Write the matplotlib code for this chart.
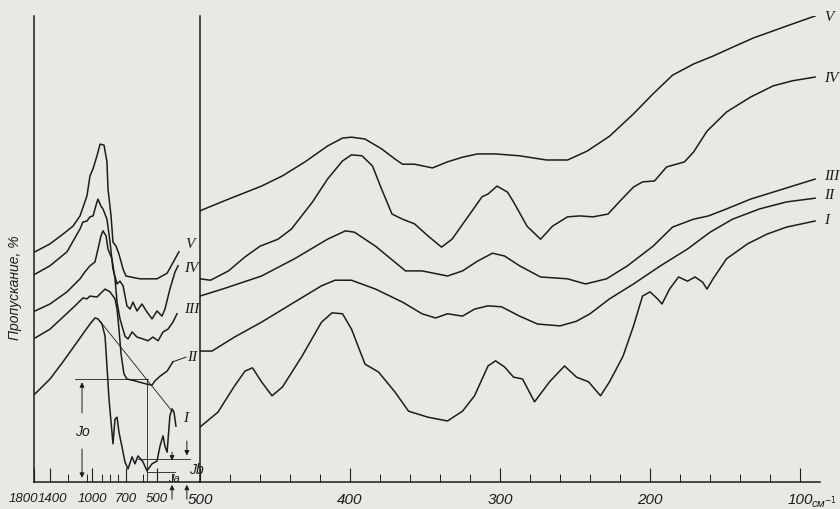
import numpy as np
import matplotlib
matplotlib.use('Agg')
import matplotlib.pyplot as plt
from matplotlib.ticker import FixedLocator, NullLocator
from matplotlib.transforms import ScaledTranslation

# ---- left panel (prism record, 1800-400 cm-1), transmission in arbitrary %
lw_V = [1775, 1400, 1276, 1181, 1114, 1048, 1019, 991, 956, 929, 894, 868, 859, 832, 815, 788, 762, 726, 700, 610, 500, 453, 398]
lt_V = [49.4, 51.1, 53.2, 54.9, 57.1, 61.4, 65.7, 67.2, 70.0, 72.5, 72.3, 68.7, 62.9, 57.1, 51.5, 50.6, 48.9, 45.7, 44.2, 43.6, 43.6, 44.8, 49.4]

lw_IV = [1775, 1400, 1238, 1114, 1086, 1048, 1019, 991, 956, 947, 921, 903, 868, 841, 815, 779, 753, 726, 694, 674, 655, 629, 597, 565, 532, 500, 477, 463, 440, 416, 402]
lt_IV = [44.6, 46.4, 49.4, 54.3, 55.8, 56.0, 56.9, 57.1, 60.1, 60.7, 59.2, 58.6, 56.4, 51.5, 45.7, 42.5, 43.1, 42.1, 37.8, 37.1, 38.6, 36.7, 38.2, 36.5, 35.0, 36.7, 35.6, 37.1, 41.4, 45.1, 46.4]

lw_III = [1775, 1400, 1238, 1114, 1067, 1019, 974, 947, 921, 903, 876, 859, 824, 797, 779, 753, 709, 687, 661, 629, 590, 558, 526, 495, 472, 449, 426, 407]
lt_III = [36.7, 38.2, 40.8, 43.6, 45.1, 46.4, 47.2, 50.0, 52.8, 53.9, 52.8, 50.0, 47.9, 43.6, 38.6, 35.0, 31.3, 30.7, 32.2, 31.1, 30.7, 30.3, 31.1, 30.3, 32.2, 32.8, 34.3, 36.1]

lw_II = [1775, 1400, 1276, 1162, 1086, 1048, 1019, 956, 885, 841, 797, 779, 762, 744, 718, 694, 642, 565, 532, 513, 486, 453, 426]
lt_II = [30.9, 32.8, 35.4, 37.8, 39.5, 39.3, 39.9, 39.7, 41.4, 40.8, 39.3, 37.1, 32.8, 27.5, 23.2, 22.1, 21.7, 21.0, 20.8, 21.7, 22.7, 23.8, 25.8]

lw_I = [1775, 1400, 1276, 1143, 1067, 1019, 974, 947, 912, 885, 868, 850, 824, 815, 797, 779, 762, 735, 709, 687, 661, 642, 623, 590, 565, 532, 500, 486, 472, 463, 453, 440, 430, 421, 412]
lt_I = [18.9, 22.1, 25.8, 30.0, 32.4, 33.9, 35.2, 35.0, 33.9, 31.3, 24.9, 17.8, 10.7, 8.2, 13.5, 13.9, 10.7, 7.5, 4.3, 2.8, 5.4, 3.9, 5.6, 4.3, 2.4, 3.9, 4.5, 7.7, 9.9, 7.7, 6.4, 14.2, 15.7, 15.0, 12.0]

# ---- right panel (grating record, 500-90 cm-1)
rw_V = [500, 481, 459, 445, 430, 415, 405, 399, 390, 379, 370, 365, 357, 345, 335, 325, 315, 303, 287, 269, 255, 242, 227, 211, 198, 185, 171, 158, 145, 131, 118, 105, 90]
rt_V = [58.2, 60.7, 63.5, 65.7, 68.7, 72.1, 73.8, 74.0, 73.6, 71.5, 69.3, 68.2, 68.2, 67.4, 68.7, 69.7, 70.4, 70.4, 70.0, 69.1, 69.1, 71.0, 74.2, 79.0, 83.3, 87.3, 89.7, 91.4, 93.3, 95.3, 96.8, 98.3, 100.0]

rw_IV = [500, 493, 481, 470, 460, 448, 439, 425, 415, 405, 399, 392, 385, 379, 372, 365, 357, 348, 339, 332, 321, 312, 308, 302, 295, 291, 282, 273, 265, 255, 247, 238, 228, 220, 211, 205, 197, 189, 177, 171, 162, 149, 133, 118, 105, 90]
rt_IV = [43.6, 43.3, 45.3, 48.3, 50.6, 52.1, 54.3, 60.1, 65.0, 68.9, 70.2, 70.0, 67.8, 62.9, 57.5, 56.4, 55.4, 52.8, 50.4, 52.1, 57.1, 61.2, 61.8, 63.5, 62.2, 60.1, 54.9, 52.1, 54.9, 56.9, 57.1, 56.9, 57.5, 60.3, 63.3, 64.4, 64.6, 67.6, 68.7, 70.8, 75.3, 79.4, 82.6, 85.0, 86.1, 86.9]

rw_III = [500, 485, 459, 437, 415, 403, 397, 383, 363, 352, 341, 335, 325, 315, 305, 297, 287, 273, 255, 243, 229, 215, 198, 185, 171, 161, 149, 133, 118, 105, 90]
rt_III = [39.9, 41.4, 44.2, 47.9, 52.1, 53.9, 53.6, 50.6, 45.3, 45.3, 44.6, 44.2, 45.3, 47.4, 49.1, 48.5, 46.4, 44.0, 43.6, 42.5, 43.6, 46.4, 50.6, 54.7, 56.4, 57.1, 58.6, 60.7, 62.2, 63.5, 65.0]

rw_II = [500, 492, 477, 459, 437, 419, 410, 399, 383, 365, 352, 343, 335, 325, 317, 308, 299, 287, 275, 260, 249, 240, 227, 211, 193, 175, 160, 145, 127, 109, 90]
rt_II = [28.1, 28.1, 31.1, 34.3, 38.6, 42.1, 43.3, 43.3, 41.4, 38.6, 36.1, 35.2, 36.1, 35.6, 37.1, 37.8, 37.6, 35.6, 33.9, 33.5, 34.5, 36.1, 39.3, 42.5, 46.4, 50.0, 53.6, 56.4, 58.6, 60.1, 60.9]

rw_I = [500, 488, 477, 470, 465, 459, 452, 445, 432, 419, 412, 405, 399, 390, 381, 370, 361, 348, 335, 325, 317, 308, 303, 297, 291, 285, 277, 267, 257, 249, 241, 233, 227, 218, 211, 205, 200, 195, 192, 187, 181, 175, 170, 165, 162, 158, 149, 135, 122, 109, 90]
rt_I = [11.8, 15.0, 20.6, 23.8, 24.5, 21.5, 18.5, 20.4, 27.0, 34.3, 36.3, 36.1, 32.8, 25.3, 23.6, 19.3, 15.2, 13.9, 13.1, 15.2, 18.5, 24.9, 26.0, 24.7, 22.5, 22.1, 17.2, 21.5, 24.9, 22.5, 21.5, 18.5, 21.5, 27.0, 33.5, 39.9, 40.8, 39.3, 38.2, 41.4, 44.0, 43.1, 44.0, 42.9, 41.4, 43.6, 47.9, 51.1, 53.2, 54.7, 56.0]

names = ['I', 'II', 'III', 'IV', 'V']

# tick labels
left_ticks = [1800, 1400, 1000, 700, 500]
left_minor = [1230, 1050, 910, 840, 770, 590, 430]
right_ticks = [500, 400, 300, 200, 100]

# nonlinear wavenumber scale of the prism chart
LEFT_WN = np.array([1800, 1400, 1000, 700, 500, 300])
LEFT_POS = np.array([0, 16, 58, 92, 123, 166])


def fwd(w):
    return -np.interp(-np.asarray(w, dtype=float), -LEFT_WN, LEFT_POS)


def inv(p):
    return -np.interp(-np.asarray(p, dtype=float), LEFT_POS, -LEFT_WN)


bg = '#e8e8e5'
ink = '#1c1c1c'
numfont = ['Liberation Sans Narrow', 'Liberation Sans', 'DejaVu Sans']
romfont = ['Liberation Serif', 'DejaVu Serif']

fig = plt.figure(figsize=(8.4, 5.1), dpi=100, facecolor=bg)
W, H = 840.0, 510.0
ax1 = fig.add_axes([34 / W, 27 / H, 166 / W, 466 / H])
ax2 = fig.add_axes([200 / W, 27 / H, 620 / W, 466 / H])

for ax in (ax1, ax2):
    ax.set_facecolor('none')
    ax.set_ylim(0, 100)
    ax.yaxis.set_major_locator(NullLocator())
    ax.spines['top'].set_visible(False)
    for s in ax.spines.values():
        s.set_color(ink)
        s.set_linewidth(1.1)

ax1.set_xscale('function', functions=(fwd, inv))
ax1.set_xlim(1800, 300)
ax2.set_xlim(500, 86.7)
ax2.spines['right'].set_visible(False)
ax2.spines['left'].set_visible(False)

# left panel curves
for w, t in [(lw_I, lt_I), (lw_II, lt_II), (lw_III, lt_III), (lw_IV, lt_IV), (lw_V, lt_V)]:
    ax1.plot(w, t, color=ink, lw=1.1, solid_joinstyle='round')
# right panel curves
for w, t in [(rw_I, rt_I), (rw_II, rt_II), (rw_III, rt_III), (rw_IV, rt_IV), (rw_V, rt_V)]:
    ax2.plot(w, t, color=ink, lw=1.1, solid_joinstyle='round')

# curve labels
left_lab_wn = [379, 360, 374, 374, 370]
left_lab_t = [13.9, 27.0, 37.3, 46.1, 51.1]
right_lab_t = [56.4, 61.8, 65.7, 86.9, 99.8]
for n, w, t in zip(names, left_lab_wn, left_lab_t):
    ax1.text(w, t, n, fontsize=11, style='italic', family=romfont, color=ink, va='center', ha='left')
for n, t in zip(names, right_lab_t):
    ax2.text(84, t, n, fontsize=11, style='italic', family=romfont, color=ink, va='center', ha='left', clip_on=False)
ax1.plot([426, 365], [25.8, 26.8], color=ink, lw=0.7)

# intensity construction on curve I
thin = dict(color=ink, lw=0.6)
ax1.plot([929, 430], [34.5, 15.2], **thin)
ax1.plot([1162, 558], [22.1, 22.1], **thin)
ax1.plot([565, 565], [22.1, 0], **thin)
ax1.plot([623, 347], [4.9, 4.9], **thin)
ax1.plot([565, 416], [2.1, 2.1], **thin)
arr = dict(arrowstyle='-|>', color=ink, lw=0.7, mutation_scale=7)
ax1.annotate('', xy=(1095, 22.0), xytext=(1095, 14.2), arrowprops=arr)
ax1.annotate('', xy=(1095, 0.3), xytext=(1095, 7.7), arrowprops=arr)
ax1.text(1095, 11.0, 'Jo', fontsize=10, style='italic', family=numfont, color=ink, ha='center', va='center')
ax1.annotate('', xy=(430, 4.0), xytext=(430, 7.0), arrowprops=arr)
ax1.annotate('', xy=(361, 5.1), xytext=(361, 9.4), arrowprops=arr)
ax1.text(420, 0.9, 'Ja', fontsize=8, style='italic', family=numfont, color=ink, ha='center', va='center')
ax1.text(350, 2.8, 'Jb', fontsize=10, style='italic', family=numfont, color=ink, ha='left', va='center')
for w in (430, 361):
    ax1.annotate('', xy=(w, 0), xycoords=('data', 'axes fraction'),
                 xytext=(w, -0.043), textcoords=('data', 'axes fraction'),
                 arrowprops=arr, annotation_clip=False)

# axes ticks
ax1.xaxis.set_major_locator(FixedLocator(left_ticks))
ax1.xaxis.set_minor_locator(FixedLocator(left_minor))
ax1.set_xticklabels([str(v) for v in left_ticks])
ax2.xaxis.set_major_locator(FixedLocator(right_ticks))
ax2.xaxis.set_minor_locator(FixedLocator(list(range(480, 86, -20))))
ax2.set_xticklabels([str(v) for v in right_ticks])
for ax, fs in ((ax1, 9.5), (ax2, 11)):
    ax.tick_params(axis='x', which='major', direction='in', length=10, width=0.8, pad=7, colors=ink)
    ax.tick_params(axis='x', which='minor', direction='in', length=6, width=0.7, colors=ink)
    for lab in ax.get_xticklabels():
        lab.set_fontstyle('italic')
        lab.set_family(numfont)
        lab.set_fontsize(fs)
# the printed labels of the prism scale sit a little off their ticks
for lab, dx in zip(ax1.get_xticklabels(), [-11, 2, 0, 0, 0]):
    lab.set_transform(lab.get_transform() + ScaledTranslation(dx / 100, 0, fig.dpi_scale_trans))
ax2.text(92.5, -0.043, 'см$^{-1}$', transform=ax2.get_xaxis_transform(), fontsize=8, style='italic',
         family=numfont, color=ink, ha='left', va='center')

fig.text(15 / W, 1 - 288 / H, 'Пропускание, %', rotation=90, fontsize=10, style='italic',
         family=numfont, color=ink, ha='center', va='center')

fig.savefig('out.png', dpi=100, facecolor=bg)
